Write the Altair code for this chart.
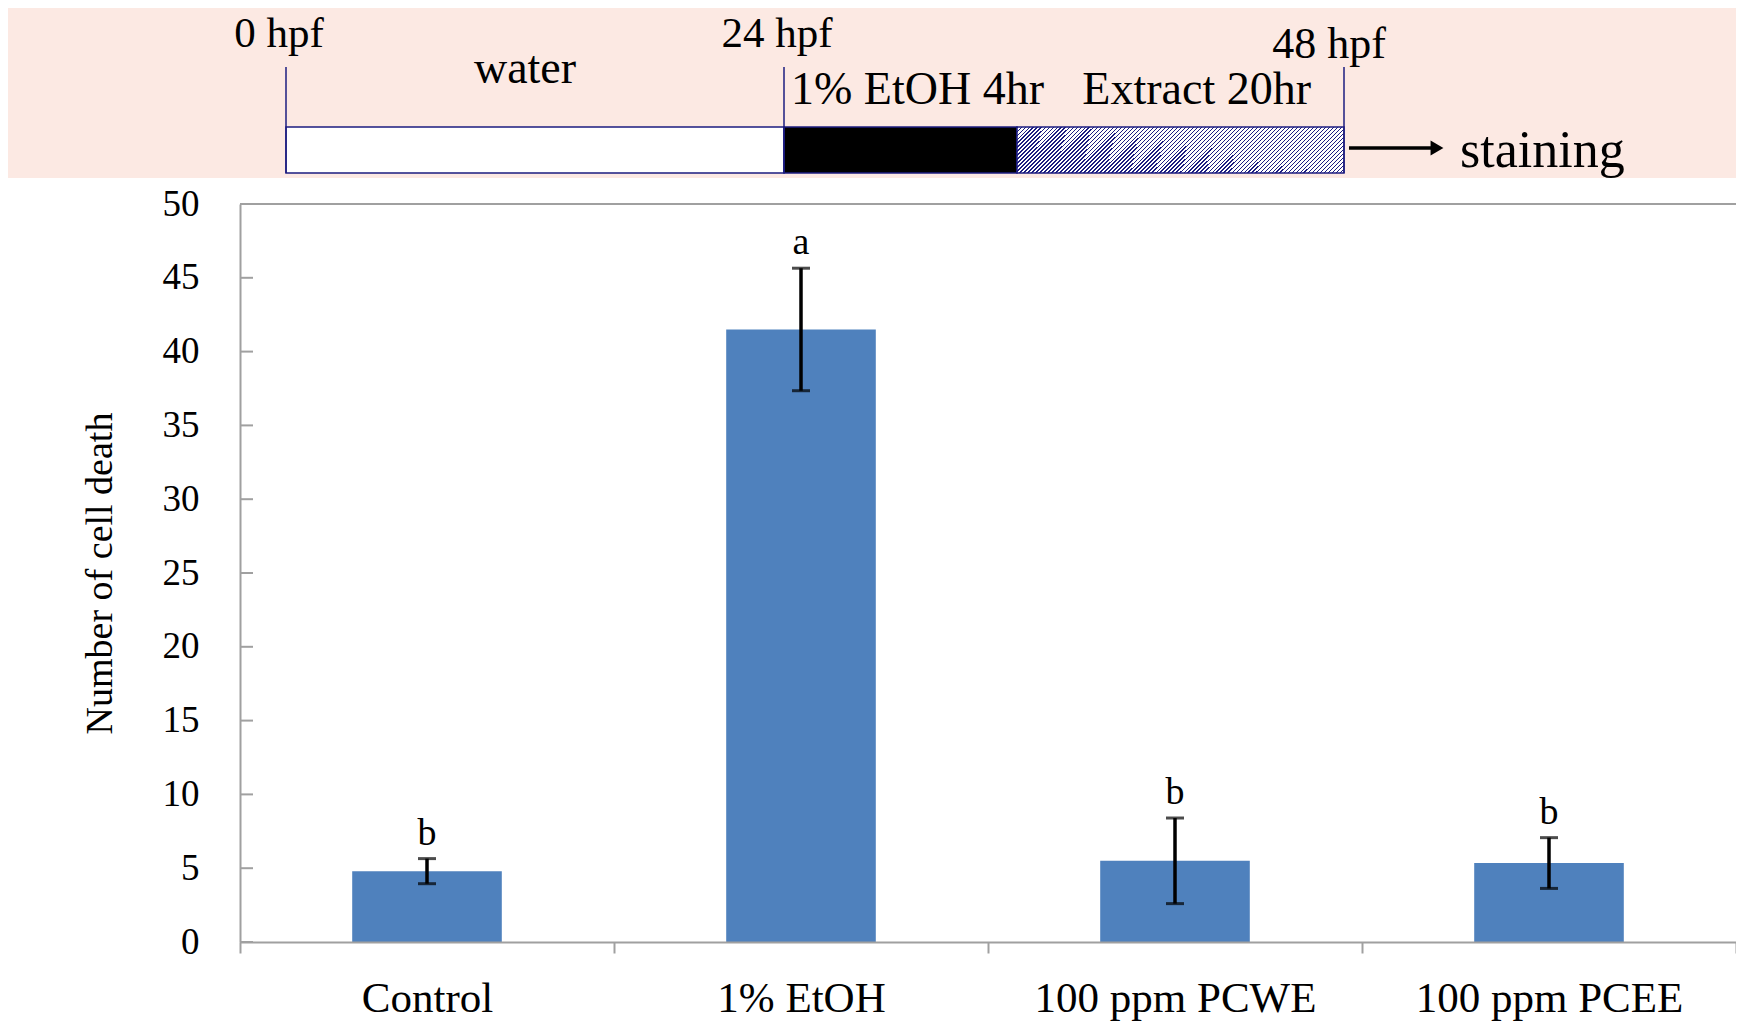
import json
import altair as alt
import pandas as pd

# ---------------- data ----------------
categories = ["Control", "1% EtOH", "100 ppm PCWE", "100 ppm PCEE"]
means = [4.8, 41.5, 5.5, 5.35]
errors = [0.85, 4.15, 2.9, 1.72]
letters = ["b", "a", "b", "b"]
y_ticks = [0, 5, 10, 15, 20, 25, 30, 35, 40, 45, 50]
y_title = "Number of cell death"

marker_hpf = [0, 24, 48]
marker_labels = ["0 hpf", "24 hpf", "48 hpf"]
seg_names = ["water", "1% EtOH 4hr", "Extract 20hr"]
seg_start = [0, 24, 28]
seg_end = [24, 28, 48]
end_label = "staining"

# ---------------- style / layout ----------------
W, H = 1496, 738
PAD_L, PAD_T, PAD_B = 232, 196, 85
FONT = "Liberation Serif"
GRAY = "#A0A0A0"
NAVY = "#1C1C80"
PINK = "#FCE9E3"
BLUE = "#4F81BD"
BAR_HALF = 0.2

n = len(categories)
df = pd.DataFrame({
    "idx": list(range(n)),
    "cat": categories,
    "mean": means,
    "err": errors,
    "letter": letters,
})

one = alt.Data(values=[{"k": 0}])

x_scale = alt.Scale(domain=[0, n], nice=False, zero=False)
y_scale = alt.Scale(domain=[0, 50], nice=False, zero=True)

label_expr = "datum.value % 1 === 0 ? '' : " + json.dumps(categories) + "[floor(datum.value)]"
x_axis = alt.Axis(
    values=[i * 0.5 for i in range(2 * n + 1)],
    labelExpr=label_expr,
    tickSize=11, tickWidth=2, tickColor=GRAY,
    tickOpacity={"condition": {"test": "datum.value % 1 === 0", "value": 1}, "value": 0},
    domainColor=GRAY, domainWidth=2,
    labelFont=FONT, labelFontSize=43, labelColor="black", labelLimit=0,
    labelPadding=58, labelBaseline="alphabetic",
    labelOverlap=False, labelFlush=False,
    grid=False, title=None, zindex=1,
)
y_axis = alt.Axis(
    values=y_ticks, ticks=False, tickSize=0, labelPadding=41,
    labelFont=FONT, labelFontSize=37, labelColor="black",
    domainColor=GRAY, domainWidth=2, grid=False,
    title=y_title, titleFont=FONT, titleFontSize=38, titleFontWeight="normal",
    titleColor="black", titleAngle=270, titleX=-140, titleY=H / 2,
    titleAlign="center", titleBaseline="middle", zindex=1,
)

base = alt.Chart(df).transform_calculate(
    xc="datum.idx + 0.5",
    x0="datum.idx + 0.5 - %f" % BAR_HALF,
    x1="datum.idx + 0.5 + %f" % BAR_HALF,
    lo="datum.mean - datum.err",
    hi="datum.mean + datum.err",
)

bg = alt.Chart(one).mark_rect(color="white").encode(
    x=alt.value(-PAD_L), x2=alt.value(W), y=alt.value(-26), y2=alt.value(H + PAD_B)
)
top_border = alt.Chart(one).mark_rule(color=GRAY, strokeWidth=2).encode(
    x=alt.value(0), x2=alt.value(W), y=alt.value(0)
)
ytick_marks = alt.Chart(pd.DataFrame({"v": y_ticks})).mark_rule(color=GRAY, strokeWidth=2).encode(
    y=alt.Y("v:Q", scale=y_scale, axis=y_axis, title=y_title),
    x=alt.value(0), x2=alt.value(13),
)
bars = base.mark_rect(color=BLUE).encode(
    x=alt.X("x0:Q", scale=x_scale, axis=x_axis),
    x2="x1:Q",
    y=alt.Y("mean:Q", scale=y_scale, axis=y_axis, title=y_title),
    y2=alt.datum(0),
)
err_line = base.mark_rule(color="black", strokeWidth=3.5).encode(
    x=alt.X("xc:Q", scale=x_scale, axis=x_axis),
    y=alt.Y("lo:Q", scale=y_scale, axis=y_axis, title=y_title),
    y2="hi:Q",
)
cap_hi = base.mark_tick(color="black", thickness=3, size=18, orient="horizontal").encode(
    x=alt.X("xc:Q", scale=x_scale, axis=x_axis),
    y=alt.Y("hi:Q", scale=y_scale, axis=y_axis, title=y_title),
)
cap_lo = base.mark_tick(color="black", thickness=3, size=18, orient="horizontal").encode(
    x=alt.X("xc:Q", scale=x_scale, axis=x_axis),
    y=alt.Y("lo:Q", scale=y_scale, axis=y_axis, title=y_title),
)
letter_text = base.mark_text(font=FONT, fontSize=38, baseline="alphabetic", dy=-14, color="black").encode(
    x=alt.X("xc:Q", scale=x_scale, axis=x_axis),
    y=alt.Y("hi:Q", scale=y_scale, axis=y_axis, title=y_title),
    text="letter:N",
)

bar_group = alt.layer(bg, top_border, ytick_marks, bars, err_line, cap_hi, cap_lo, letter_text)

# ---------------- timeline ----------------
hpf_scale = alt.Scale(domain=[0, 24, 28, 48], range=[46, 544, 777, 1104])

seg_df = pd.DataFrame({"name": seg_names, "start": seg_start, "end": seg_end})
mk_df = pd.DataFrame({"hpf": marker_hpf, "label": marker_labels})

# hatch texture: striped gradient, 4px stripe period across a 327x46 box
SEG_W, SEG_H, PERIOD, LINE_FRAC = 327.0, 46.0, 4.0, 0.33
r = SEG_H / SEG_W
k = (1 + r) / (1 + r * r)
step = PERIOD / (SEG_W + SEG_H)
stops = []
a = 0.0
while a < 1.0:
    b = min(a + LINE_FRAC * step, 1.0)
    stops += [
        {"offset": round(a, 6), "color": "white"},
        {"offset": round(a, 6), "color": NAVY},
        {"offset": round(b, 6), "color": NAVY},
        {"offset": round(b, 6), "color": "white"},
    ]
    a += step
hatch = {"gradient": "linear", "x1": 0, "y1": 0, "x2": round(k, 5), "y2": round(k * r, 5), "stops": stops}

seg_base = alt.Chart(seg_df)
fills = ["white", "black", hatch]
seg_layers = []
for nm, f in zip(seg_names, fills):
    seg_layers.append(
        seg_base.transform_filter(alt.datum.name == nm)
        .mark_rect(fill=f, stroke=NAVY, strokeWidth=1.5)
        .encode(
            x=alt.X("start:Q", scale=hpf_scale, axis=None),
            x2="end:Q",
            y=alt.value(-77), y2=alt.value(-31),
        )
    )

mk_lines = alt.Chart(mk_df).mark_rule(color=NAVY, strokeWidth=1.5).encode(
    x=alt.X("hpf:Q", scale=hpf_scale, axis=None),
    y=alt.value(-137), y2=alt.value(-31),
)
mk_text_a = alt.Chart(mk_df).transform_filter("datum.hpf < 48").mark_text(
    font=FONT, fontSize=43, align="center", baseline="alphabetic", dx=-7, color="black"
).encode(x=alt.X("hpf:Q", scale=hpf_scale, axis=None), y=alt.value(-157), text="label:N")
mk_text_b = alt.Chart(mk_df).transform_filter("datum.hpf >= 48").mark_text(
    font=FONT, fontSize=44, align="center", baseline="alphabetic", dx=-15, color="black"
).encode(x=alt.X("hpf:Q", scale=hpf_scale, axis=None), y=alt.value(-146), text="label:N")

water_text = seg_base.transform_filter(alt.datum.name == seg_names[0]).transform_calculate(
    mid="(datum.start + datum.end) / 2"
).mark_text(font=FONT, fontSize=46, align="center", baseline="alphabetic", dx=-10, color="black").encode(
    x=alt.X("mid:Q", scale=hpf_scale, axis=None), y=alt.value(-121), text="name:N"
)
etoh_text = seg_base.transform_filter(alt.datum.name == seg_names[1]).mark_text(
    font=FONT, fontSize=46, align="left", baseline="alphabetic", dx=7, color="black"
).encode(x=alt.X("start:Q", scale=hpf_scale, axis=None), y=alt.value(-100), text="name:N")
extract_text = seg_base.transform_filter(alt.datum.name == seg_names[2]).mark_text(
    font=FONT, fontSize=46, align="right", baseline="alphabetic", dx=-33, color="black"
).encode(x=alt.X("end:Q", scale=hpf_scale, axis=None), y=alt.value(-100), text="name:N")

arrow_line = alt.Chart(mk_df).transform_filter("datum.hpf >= 48").mark_rule(
    color="black", strokeWidth=3.5, xOffset=5
).encode(x=alt.X("hpf:Q", scale=hpf_scale, axis=None), x2=alt.value(1192), y=alt.value(-56))
arrow_head = alt.Chart(one).mark_point(
    shape="triangle-right", filled=True, color="black", opacity=1, size=220
).encode(x=alt.value(1197), y=alt.value(-56))
stain_text = alt.Chart(one).mark_text(
    font=FONT, fontSize=52, align="left", baseline="alphabetic", color="black"
).encode(x=alt.value(1220), y=alt.value(-37), text=alt.value(end_label))

timeline_group = alt.layer(
    *seg_layers, mk_lines, mk_text_a, mk_text_b, water_text, etoh_text, extract_text,
    arrow_line, arrow_head, stain_text,
)

chart = (
    alt.layer(bar_group, timeline_group)
    .resolve_scale(x="independent")
    .properties(
        width=W, height=H,
        padding={"left": PAD_L, "top": PAD_T, "right": 0, "bottom": PAD_B},
        autosize=alt.AutoSizeParams(type="none"),
        background=PINK,
    )
    .configure_view(stroke=None)
)

chart.save("out.html", embed_options={"renderer": "svg", "actions": False})
